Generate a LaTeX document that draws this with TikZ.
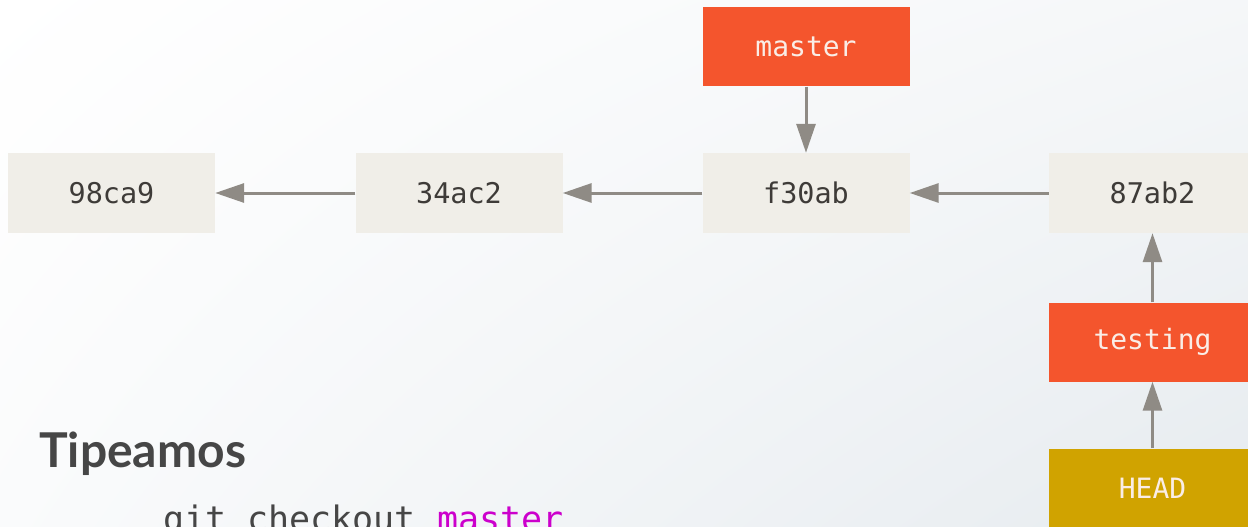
\documentclass[tikz,border=0pt]{standalone}
\usepackage{fontspec}
\usetikzlibrary{arrows.meta,shadings}
\newfontfamily\monof{DejaVu Sans Mono}
\newfontfamily\titlef{Lato}
\definecolor{commitbg}{HTML}{F0EEE8}
\definecolor{commitfg}{HTML}{3E3B38}
\definecolor{branchbg}{HTML}{F4552D}
\definecolor{headbg}{HTML}{D0A300}
\definecolor{labelfg}{HTML}{FAEDE6}
\definecolor{arrowc}{HTML}{8F8B85}
\definecolor{bgend}{HTML}{E6EBEF}
\definecolor{txtc}{HTML}{464646}
\definecolor{magc}{HTML}{CC00CC}
\tikzset{
  commit/.style={fill=commitbg, minimum width=207pt, minimum height=80pt, inner sep=0pt, text=commitfg, font=\monof\fontsize{28.5}{32}\selectfont},
  branch/.style={fill=branchbg, minimum width=207pt, minimum height=79pt, inner sep=0pt, text=labelfg, font=\monof\fontsize{28}{32}\selectfont},
  headbox/.style={branch, fill=headbg},
  link/.style={draw=arrowc, line width=3pt, -{Triangle[length=29pt,width=19pt]}}
}
\begin{document}
\begin{tikzpicture}[x=1pt,y=-1pt]
\useasboundingbox (0,0) rectangle (1248,527);
\clip (0,0) rectangle (1248,527);
\shade[upper left=white, upper right=white!60!bgend, lower left=white!80!bgend, lower right=bgend] (0,0) rectangle (1248,527);
\node[commit] (c1) at (111.5,193) {98ca9};
\node[commit] (c2) at (459,193) {34ac2};
\node[commit] (c3) at (806,193) {f30ab};
\node[commit] (c4) at (1152.5,193) {87ab2};
\node[branch] (master) at (806,47) {master};
\node[branch] (testing) at (1152.5,342) {testing};
\node[headbox] (head) at (1152.5,488) {HEAD};
\draw[link] (c2) -- (c1);
\draw[link] (c3) -- (c2);
\draw[link] (c4) -- (c3);
\draw[link] (master) -- (c3);
\draw[link] (testing) -- (c4);
\draw[link] (head) -- (testing);
\node[anchor=base west, inner sep=0pt, text=txtc, font=\titlef\bfseries\fontsize{48}{60}\selectfont] (title) at (39,467) {Tipeamos};
\node[anchor=base west, inner sep=0pt, text=txtc, font=\monof\fontsize{35}{40}\selectfont] (cmd) at (163,531) {git checkout \textcolor{magc}{master}};
\end{tikzpicture}
\end{document}
